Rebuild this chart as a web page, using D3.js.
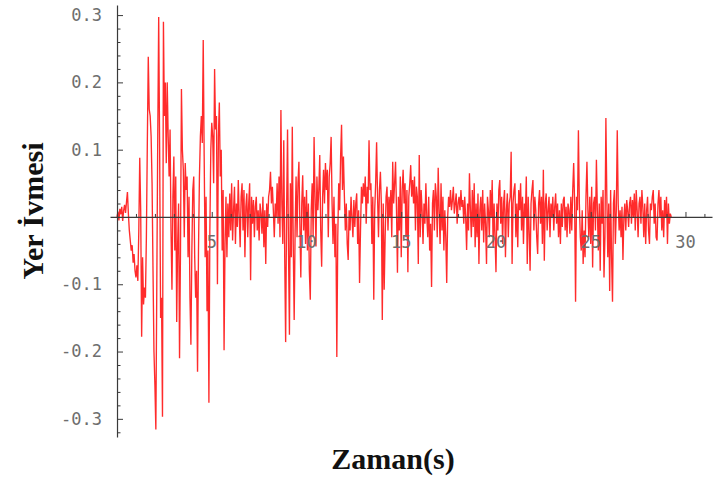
<!DOCTYPE html>
<html>
<head>
<meta charset="utf-8">
<script src="https://cdn.jsdelivr.net/npm/d3@7"></script>
<style>
  html, body { margin: 0; padding: 0; background: #fff; }
  svg { display: block; }
</style>
</head>
<body>
<svg id="chart" width="715" height="486"></svg>
<script>
// Ground acceleration record (g), sampled every 0.05 s.
const sampleInterval = 0.05;

const accel00to05 = [
  0.000, 0.008, -0.005, 0.012, 0.004, 0.015, -0.006, 0.010, 0.018, 0.006, 0.022, 0.037, 0.005, -0.020, -0.035, -0.050, -0.042, -0.068, -0.055, -0.080,
  -0.090, -0.072, -0.095, -0.020, 0.088, 0.010, -0.178, -0.060, -0.130, -0.105, -0.120, -0.030, 0.110, 0.238, 0.160, 0.150, 0.120, 0.050, -0.080, -0.200,
  -0.250, -0.316, -0.100, 0.120, 0.297, 0.100, -0.150, -0.120, -0.297, 0.290, 0.150, 0.200, 0.080, 0.200, 0.120, 0.060, 0.130, -0.020, -0.108, 0.030,
  0.090, -0.050, 0.060, -0.156, -0.040, 0.020, -0.210, -0.050, 0.190, 0.100, 0.070, -0.030, 0.080, 0.040, 0.060, -0.060, 0.030, -0.120, -0.190, -0.050,
  0.040, 0.060, -0.060, -0.120, -0.080, -0.230, -0.050, 0.060, 0.120, 0.150, 0.110, 0.263, 0.090, -0.060, 0.030, -0.140, -0.050, -0.276, -0.020, 0.100
];
const accel05to10 = [
  0.140, 0.120, 0.050, 0.220, 0.130, 0.150, -0.100, 0.120, 0.170, 0.060, 0.100, -0.050, 0.040, -0.198, -0.040, 0.030, -0.060, 0.020, -0.030, 0.035,
  -0.020, 0.050, -0.035, 0.010, 0.045, -0.040, 0.020, -0.015, 0.055, 0.000, -0.045, 0.030, 0.050, -0.020, 0.040, -0.060, 0.015, 0.035, -0.030, 0.020,
  0.050, -0.094, 0.030, -0.010, 0.025, -0.030, 0.015, 0.030, -0.020, 0.010, -0.035, 0.020, 0.005, -0.025, 0.030, -0.045, 0.010, -0.070, 0.020, -0.015,
  0.030, 0.040, 0.067, 0.020, 0.045, 0.010, -0.030, 0.020, 0.000, 0.050, -0.010, 0.060, -0.030, 0.159, 0.020, -0.040, 0.114, -0.060, -0.186, 0.010,
  0.130, -0.050, -0.175, 0.050, -0.060, 0.134, -0.040, -0.153, -0.020, 0.060, -0.030, 0.050, 0.082, -0.010, -0.090, 0.020, 0.062, -0.020, 0.030, -0.040
];
const accel10to15 = [
  0.040, -0.050, 0.020, -0.080, -0.123, 0.010, 0.050, -0.030, 0.119, 0.030, -0.044, 0.060, 0.010, 0.040, 0.092, -0.020, -0.074, 0.030, 0.070, 0.020,
  0.080, 0.040, 0.070, -0.030, 0.060, 0.080, 0.119, 0.020, -0.040, 0.030, -0.060, -0.010, -0.208, -0.030, 0.050, 0.010, 0.090, 0.137, 0.040, 0.090,
  0.030, -0.020, 0.020, -0.040, -0.064, 0.010, -0.020, 0.030, 0.000, -0.030, 0.025, -0.015, 0.020, 0.035, -0.040, 0.010, -0.098, -0.020, 0.045, 0.020,
  0.050, 0.030, 0.060, -0.010, 0.045, 0.020, 0.114, 0.040, 0.050, -0.040, 0.030, -0.123, 0.010, 0.050, 0.111, 0.030, -0.030, 0.040, 0.067, 0.020,
  -0.153, 0.020, -0.108, -0.030, 0.030, 0.045, -0.020, 0.030, 0.000, 0.040, -0.030, 0.082, 0.020, 0.050, 0.082, 0.010, -0.083, 0.030, -0.020, 0.060
];
const accel15to20 = [
  -0.060, 0.040, 0.070, 0.020, 0.050, -0.030, 0.040, -0.082, 0.030, 0.050, 0.077, 0.030, 0.055, 0.020, 0.060, -0.020, 0.045, 0.030, -0.070, 0.092,
  -0.030, 0.040, 0.010, -0.040, 0.020, -0.010, 0.050, 0.000, -0.030, 0.030, -0.050, -0.010, -0.104, 0.020, 0.040, -0.020, 0.050, 0.030, -0.030, 0.073,
  0.010, -0.040, 0.050, -0.020, 0.030, -0.050, 0.010, -0.030, -0.098, 0.000, 0.030, 0.015, 0.040, 0.010, 0.025, 0.045, 0.005, 0.020, 0.035, -0.010,
  0.020, 0.030, 0.010, 0.040, 0.015, 0.025, -0.010, 0.030, 0.000, -0.049, 0.020, -0.020, 0.065, 0.010, -0.030, 0.040, -0.015, 0.050, -0.045, 0.020,
  -0.030, 0.035, -0.070, 0.010, 0.030, -0.020, 0.040, -0.038, 0.020, -0.010, -0.070, 0.030, 0.010, -0.030, 0.040, 0.000, 0.055, -0.045, 0.020, -0.030
];
const accel20to25 = [
  -0.082, 0.020, -0.020, 0.040, 0.055, -0.010, 0.030, -0.040, 0.020, 0.040, -0.060, 0.010, 0.035, -0.030, 0.020, 0.030, 0.097, -0.070, 0.020, 0.040,
  0.050, -0.030, 0.020, -0.045, 0.040, 0.010, 0.050, -0.020, 0.030, -0.040, 0.020, 0.000, 0.060, -0.070, 0.030, -0.020, -0.080, 0.020, 0.040, 0.055,
  -0.020, 0.030, 0.010, -0.030, -0.055, 0.020, 0.040, -0.010, 0.030, -0.040, 0.070, -0.065, 0.020, 0.035, -0.020, 0.010, 0.030, -0.030, 0.020, 0.000,
  0.030, -0.020, 0.015, 0.035, -0.010, 0.020, -0.030, 0.010, -0.040, 0.020, -0.015, 0.025, 0.030, -0.020, 0.015, -0.030, 0.020, 0.010, -0.025, 0.030,
  -0.020, 0.040, 0.080, 0.020, -0.126, 0.030, 0.010, 0.129, 0.020, -0.030, -0.050, 0.010, -0.070, -0.020, -0.060, 0.030, 0.082, 0.010, -0.030, 0.030
];
const accel25to30 = [
  -0.040, 0.045, -0.075, 0.020, 0.030, -0.020, 0.085, 0.010, -0.050, 0.020, -0.080, 0.030, -0.010, 0.040, -0.090, -0.030, 0.147, 0.030, -0.060, 0.020,
  -0.110, 0.040, -0.060, -0.126, 0.020, 0.040, -0.040, 0.010, 0.129, 0.020, -0.020, 0.010, -0.030, 0.015, -0.064, 0.000, 0.020, -0.020, 0.025, 0.010,
  -0.015, 0.020, 0.030, -0.010, 0.025, 0.000, 0.035, -0.020, 0.040, 0.010, -0.030, 0.020, 0.030, -0.010, 0.040, 0.015, -0.030, 0.020, -0.040, 0.010,
  0.030, -0.020, -0.040, 0.020, 0.010, 0.030, 0.040, -0.010, 0.020, -0.030, -0.035, 0.020, 0.040, 0.000, 0.030, -0.020, 0.010, -0.030, 0.025, 0.000,
  0.030, -0.040, 0.020, -0.010, 0.005, 0.000
];

const xMajorTicks = [5, 10, 15, 20, 25, 30];
const xMinorTicks = d3.range(1, 32).filter(t => t % 5 !== 0);
const yMajorTicks = [-0.3, -0.2, -0.1, 0.1, 0.2, 0.3];
const yTickLabels = ["-0.3", "-0.2", "-0.1", "0.1", "0.2", "0.3"];
const yMinorTicks = d3.range(-32, 32, 2).map(v => v / 100).filter(v => Math.abs(Math.round(v * 100)) % 10 !== 0);

const xTitle = "Zaman(s)";
const yTitle = "Yer İvmesi";

const accel = [].concat(accel00to05, accel05to10, accel10to15, accel15to20, accel20to25, accel25to30);
const series = accel.map((a, i) => ({ t: i * sampleInterval, a }));

const svg = d3.select("#chart");

const x = d3.scaleLinear().domain([-0.37, 31.4]).range([110, 712]);
const y = d3.scaleLinear().domain([-0.327, 0.315]).range([437, 5]);

// acceleration trace
const line = d3.line().x(d => x(d.t)).y(d => y(d.a));
svg.append("path")
  .datum(series)
  .attr("fill", "none")
  .attr("stroke", "#ff1414")
  .attr("stroke-width", 1.35)
  .attr("stroke-linejoin", "miter")
  .attr("stroke-opacity", 0.9)
  .attr("d", line);

const axisColor = "#3a3a3a";
const labelColor = "#6e6e6e";
const monoFont = "'DejaVu Sans Mono', 'Liberation Mono', monospace";

// horizontal axis through zero
const gx = svg.append("g")
  .attr("transform", `translate(0,${y(0)})`)
  .call(d3.axisTop(x).tickValues(xMajorTicks).tickSize(5).tickSizeOuter(0).tickFormat(""));
gx.select(".domain").attr("stroke", axisColor).attr("stroke-width", 1.2);
gx.selectAll(".tick line").attr("stroke", axisColor);
gx.selectAll(".tick").each(function () { d3.select(this).select("text").remove(); });

const gxMinor = svg.append("g")
  .attr("transform", `translate(0,${y(0)})`)
  .call(d3.axisTop(x).tickValues(xMinorTicks).tickSize(3).tickFormat(""));
gxMinor.select(".domain").remove();
gxMinor.selectAll(".tick line").attr("stroke", axisColor);

svg.append("g")
  .selectAll("text")
  .data(xMajorTicks)
  .join("text")
  .attr("x", d => x(d))
  .attr("y", y(0) + 31)
  .attr("text-anchor", "middle")
  .attr("font-family", monoFont)
  .attr("font-size", 17)
  .attr("fill", labelColor)
  .text(d => d);

// vertical axis at t = 0
const gy = svg.append("g")
  .attr("transform", `translate(${x(0)},0)`)
  .call(d3.axisRight(y).tickValues(yMajorTicks).tickSize(6).tickSizeOuter(0).tickFormat(""));
gy.select(".domain").attr("stroke", axisColor).attr("stroke-width", 1.2);
gy.selectAll(".tick line").attr("stroke", axisColor);

const gyMinor = svg.append("g")
  .attr("transform", `translate(${x(0)},0)`)
  .call(d3.axisRight(y).tickValues(yMinorTicks).tickSize(3.5).tickFormat(""));
gyMinor.select(".domain").remove();
gyMinor.selectAll(".tick line").attr("stroke", axisColor);

svg.append("g")
  .selectAll("text")
  .data(yMajorTicks)
  .join("text")
  .attr("x", x(0) - 15)
  .attr("y", d => y(d))
  .attr("dy", "0.35em")
  .attr("text-anchor", "end")
  .attr("font-family", monoFont)
  .attr("font-size", 17)
  .attr("fill", labelColor)
  .text((d, i) => yTickLabels[i]);

// axis titles
svg.append("text")
  .attr("x", 393)
  .attr("y", 469)
  .attr("text-anchor", "middle")
  .attr("font-family", "'Liberation Serif', 'Times New Roman', serif")
  .attr("font-weight", "bold")
  .attr("font-size", 30)
  .attr("fill", "#111")
  .text(xTitle);

svg.append("text")
  .attr("transform", "translate(43,211) rotate(-90)")
  .attr("text-anchor", "middle")
  .attr("font-family", "'Liberation Serif', 'Times New Roman', serif")
  .attr("font-weight", "bold")
  .attr("font-size", 30)
  .attr("fill", "#111")
  .text(yTitle);
</script>
</body>
</html>
